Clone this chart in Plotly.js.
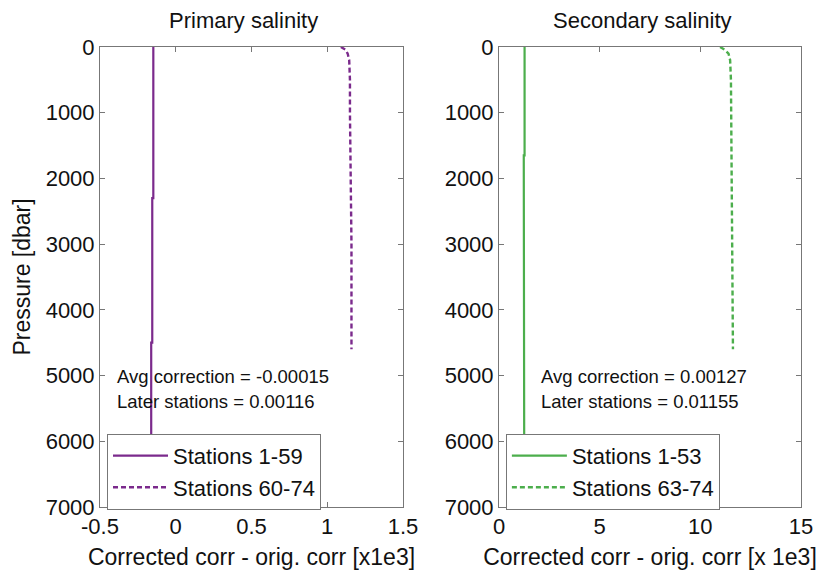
<!DOCTYPE html>
<html>
<head>
<meta charset="utf-8">
<script src="https://cdn.plot.ly/plotly-3.0.1.min.js"></script>
<style>
  html, body { margin: 0; padding: 0; background: #fff; }
  #chart { width: 817px; height: 572px; }
</style>
</head>
<body>
<div id="chart"></div>
<script>
// Salinity correction profiles (corrected minus original correction, x1e3) vs pressure
const primaryEarlyP   = [0, 2300, 2300, 4500, 4500, 6000];
const primaryEarlyX   = [-0.148, -0.148, -0.155, -0.155, -0.162, -0.162];
const primaryLateP    = [0, 40, 100, 200, 500, 1000, 2000, 3000, 4000, 4600];
const primaryLateX    = [1.09, 1.12, 1.135, 1.145, 1.15, 1.15, 1.155, 1.16, 1.16, 1.16];

const secondaryEarlyP = [0, 1650, 1650, 3250, 3250, 5900];
const secondaryEarlyX = [1.27, 1.27, 1.23, 1.23, 1.25, 1.25];
const secondaryLateP  = [0, 40, 100, 200, 500, 1000, 2000, 3000, 4000, 4600];
const secondaryLateX  = [10.98, 11.2, 11.4, 11.48, 11.52, 11.53, 11.55, 11.58, 11.6, 11.62];

const panelTitles   = ["Primary salinity", "Secondary salinity"];
const seriesNames   = ["Stations 1-59", "Stations 60-74", "Stations 1-53", "Stations 63-74"];
const avgCorrection = ["-0.00015", "0.00127"];
const laterStations = ["0.00116", "0.01155"];
const yTicks        = [0, 1000, 2000, 3000, 4000, 5000, 6000, 7000];
const xTicksPrimary   = [-0.5, 0, 0.5, 1, 1.5];
const xTicksSecondary = [0, 5, 10, 15];

const purple = "#7b2a8c";
const green  = "#4cae4c";
const FONT = "Liberation Sans, Arial, Helvetica, sans-serif";
const INK = "#111";

const traces = [
  { x: primaryEarlyX, y: primaryEarlyP, name: seriesNames[0], xaxis: "x", yaxis: "y",
    mode: "lines", line: { color: purple, width: 2.2 }, legend: "legend" },
  { x: primaryLateX, y: primaryLateP, name: seriesNames[1], xaxis: "x", yaxis: "y",
    mode: "lines", line: { color: purple, width: 2.4, dash: "5px,3px" }, legend: "legend" },
  { x: secondaryEarlyX, y: secondaryEarlyP, name: seriesNames[2], xaxis: "x2", yaxis: "y2",
    mode: "lines", line: { color: green, width: 2.2 }, legend: "legend2" },
  { x: secondaryLateX, y: secondaryLateP, name: seriesNames[3], xaxis: "x2", yaxis: "y2",
    mode: "lines", line: { color: green, width: 2.4, dash: "5px,3px" }, legend: "legend2" }
];

const axisCommon = {
  showgrid: false, zeroline: false, showline: true, linecolor: "#777", linewidth: 1,
  mirror: "ticks", ticks: "inside", ticklen: 5, tickcolor: "#777",
  tickfont: { family: FONT, size: 22, color: INK }
};

const yAxis = (anchor) => Object.assign({}, axisCommon, {
  anchor: anchor, range: [7000, 0], tickvals: yTicks, ticktext: yTicks.map(String)
});

const titleFont = { family: FONT, size: 23, color: INK };

const legendBox = (xPos) => ({
  x: xPos, y: 0.159, xanchor: "left", yanchor: "top",
  bgcolor: "#fff", bordercolor: "#777", borderwidth: 1,
  font: { family: FONT, size: 22, color: INK },
  tracegroupgap: 0, itemwidth: 55
});

const noteFont = { family: FONT, size: 18.5, color: INK };

const layout = {
  width: 817, height: 572,
  margin: { l: 100, r: 16, t: 47, b: 65 },
  paper_bgcolor: "#fff", plot_bgcolor: "#fff",
  showlegend: true,
  xaxis: Object.assign({}, axisCommon, {
    domain: [0, 0.4322], anchor: "y", range: [-0.5, 1.5], tickvals: xTicksPrimary,
    ticktext: ["-0.5", "0", "0.5", "1", "1.5"],
    title: { text: "Corrected corr - orig. corr [x1e3]", font: titleFont, standoff: 10 }
  }),
  yaxis: Object.assign(yAxis("x"), {
    title: { text: "Pressure [dbar]", font: titleFont, standoff: 8 }
  }),
  xaxis2: Object.assign({}, axisCommon, {
    domain: [0.5692, 1], anchor: "y2", range: [0, 15], tickvals: xTicksSecondary,
    ticktext: xTicksSecondary.map(String),
    title: { text: "Corrected corr - orig. corr [x 1e3]", font: titleFont, standoff: 10 }
  }),
  yaxis2: yAxis("x2"),
  legend: legendBox(0.01),
  legend2: legendBox(0.579),
  annotations: [
    { text: panelTitles[0], xref: "x domain", yref: "paper", x: 0.5, y: 1, yanchor: "middle",
      xshift: -8, yshift: 27, showarrow: false, font: { family: FONT, size: 22, color: INK } },
    { text: panelTitles[1], xref: "x2 domain", yref: "paper", x: 0.5, y: 1, yanchor: "middle",
      xshift: -8, yshift: 27, showarrow: false, font: { family: FONT, size: 22, color: INK } },
    { text: "Avg correction = " + avgCorrection[0], xref: "x domain", yref: "y", x: 0.05, y: 5020,
      xanchor: "left", showarrow: false, font: noteFont },
    { text: "Later stations = " + laterStations[0], xref: "x domain", yref: "y", x: 0.05, y: 5400,
      xanchor: "left", showarrow: false, font: noteFont },
    { text: "Avg correction = " + avgCorrection[1], xref: "x2 domain", yref: "y2", x: 0.132, y: 5020,
      xanchor: "left", showarrow: false, font: noteFont },
    { text: "Later stations = " + laterStations[1], xref: "x2 domain", yref: "y2", x: 0.132, y: 5400,
      xanchor: "left", showarrow: false, font: noteFont }
  ]
};

Plotly.newPlot("chart", traces, layout, { displayModeBar: false, staticPlot: true });
</script>
</body>
</html>
